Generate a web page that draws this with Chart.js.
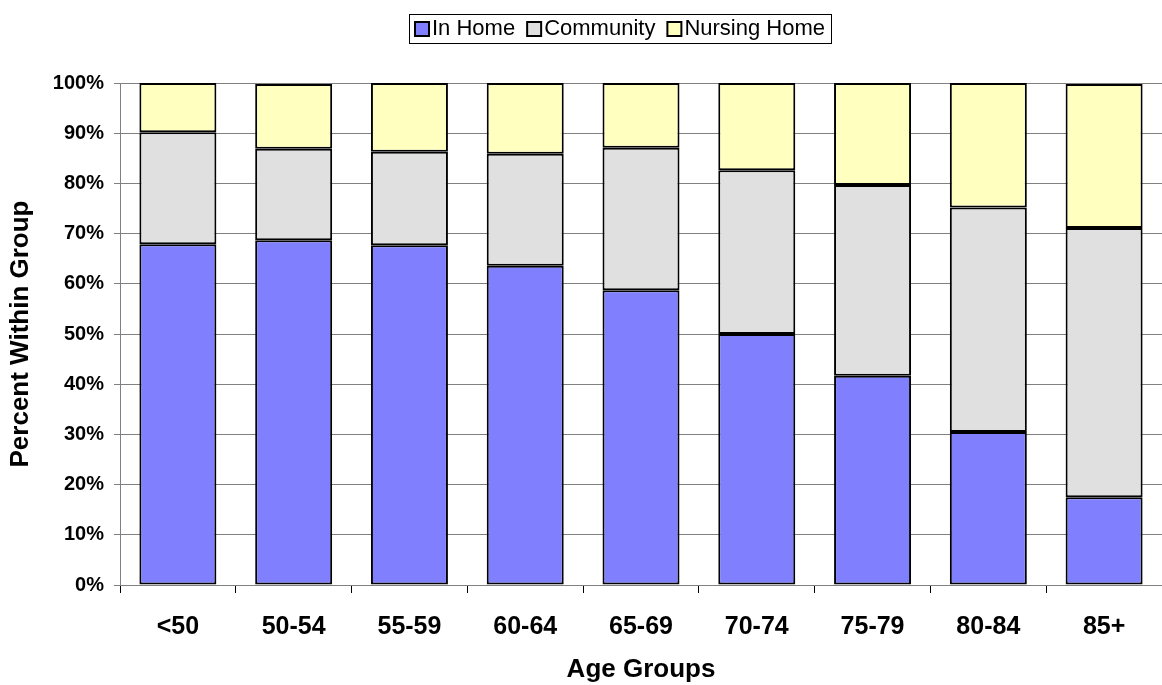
<!DOCTYPE html>
<html>
<head>
<meta charset="utf-8">
<title>Living arrangement by age group</title>
<script src="https://cdn.jsdelivr.net/npm/chart.js@4/dist/chart.umd.min.js"></script>
<style>
  html, body { margin: 0; padding: 0; background: #ffffff; }
  #wrap { width: 1162px; height: 685px; position: relative; }
</style>
</head>
<body>
<div id="wrap"><canvas id="chart" width="1162" height="685"></canvas></div>
<script>
// Age groups along the x axis
const categories = ['<50', '50-54', '55-59', '60-64', '65-69', '70-74', '75-79', '80-84', '85+'];

// Percent of each age group by living arrangement (stacked to ~100%)
const inHome       = [67.9, 68.7, 67.7, 63.6, 58.7, 50.0, 41.7, 30.5, 17.5];
const community    = [22.3, 18.2, 18.6, 22.3, 28.4, 32.6, 38.0, 44.7, 53.6];
const nursingHome  = [ 9.8, 12.9, 13.7, 14.1, 12.9, 17.4, 20.3, 24.8, 28.7];

const seriesNames = ['In Home', 'Community', 'Nursing Home'];
const yTicks = [0, 10, 20, 30, 40, 50, 60, 70, 80, 90, 100];

const FONT = "'Liberation Sans', Arial, Helvetica, sans-serif";

// Boxed legend drawn along the top, centred over the plot
const boxedLegend = {
  id: 'boxedLegend',
  afterDraw(chart) {
    const ctx = chart.ctx;
    const items = chart.data.datasets.map(d => ({ text: d.label, fill: d.backgroundColor }));
    ctx.save();
    ctx.font = "22px " + FONT;
    const mark = 14, markGap = 3, itemGap = 12, padX = 6;
    let total = padX * 2;
    items.forEach((it, i) => {
      it.w = ctx.measureText(it.text).width;
      total += mark + markGap + it.w + (i < items.length - 1 ? itemGap : 0);
    });
    const cx = 620, top = 14, h = 29;
    const left = Math.round(cx - total / 2);
    ctx.fillStyle = '#ffffff';
    ctx.fillRect(left, top, total, h);
    ctx.strokeStyle = '#000000';
    ctx.lineWidth = 1;
    ctx.strokeRect(left + 0.5, top + 0.5, Math.round(total), h);
    let x = left + padX;
    const midY = top + h / 2 + 0.5;
    items.forEach(it => {
      ctx.fillStyle = it.fill;
      ctx.fillRect(x, midY - mark / 2, mark, mark);
      ctx.lineWidth = 2;
      ctx.strokeStyle = '#000000';
      ctx.strokeRect(x, midY - mark / 2, mark, mark);
      x += mark + markGap;
      ctx.fillStyle = '#000000';
      ctx.textBaseline = 'middle';
      ctx.textAlign = 'left';
      ctx.fillText(it.text, x, midY);
      x += it.w + itemGap;
    });
    ctx.restore();
  }
};

new Chart(document.getElementById('chart'), {
  type: 'bar',
  data: {
    labels: categories,
    datasets: [
      { label: seriesNames[0], data: inHome,      backgroundColor: '#8080FF' },
      { label: seriesNames[1], data: community,   backgroundColor: '#E0E0E0' },
      { label: seriesNames[2], data: nursingHome, backgroundColor: '#FFFFC0' }
    ].map(d => Object.assign(d, {
      borderColor: '#000000',
      borderWidth: 2,
      borderSkipped: false,
      categoryPercentage: 1.0,
      barPercentage: 0.665
    }))
  },
  options: {
    responsive: false,
    animation: false,
    devicePixelRatio: 1,
    layout: { padding: { top: 83, right: 0, bottom: 0, left: 0 } },
    plugins: {
      legend: { display: false },
      tooltip: { enabled: false }
    },
    scales: {
      x: {
        stacked: true,
        afterFit(scale) { scale.height = 100; },
        grid: {
          drawOnChartArea: false,
          drawTicks: true,
          tickLength: 8,
          color: '#000000',
          offset: true
        },
        border: { color: '#808080', width: 1 },
        ticks: {
          color: '#000000',
          padding: 19,
          font: { family: FONT, size: 25, weight: 'bold' }
        },
        title: {
          display: true,
          text: 'Age Groups',
          color: '#000000',
          padding: { top: 0, bottom: 0 },
          font: { family: FONT, size: 26, weight: 'bold' }
        }
      },
      y: {
        stacked: true,
        min: 0,
        max: 100,
        afterFit(scale) { scale.width = 120; },
        afterBuildTicks(scale) { scale.ticks = yTicks.map(v => ({ value: v })); },
        grid: {
          color: '#808080',
          lineWidth: 1,
          drawTicks: true,
          tickLength: 6
        },
        border: { color: '#808080', width: 1 },
        ticks: {
          color: '#000000',
          padding: 10,
          font: { family: FONT, size: 20, weight: 'bold' },
          callback: v => v + '%'
        },
        title: {
          display: true,
          text: 'Percent Within Group',
          color: '#000000',
          padding: { top: 5, bottom: 0 },
          font: { family: FONT, size: 26, weight: 'bold' }
        }
      }
    }
  },
  plugins: [boxedLegend]
});
</script>
</body>
</html>
